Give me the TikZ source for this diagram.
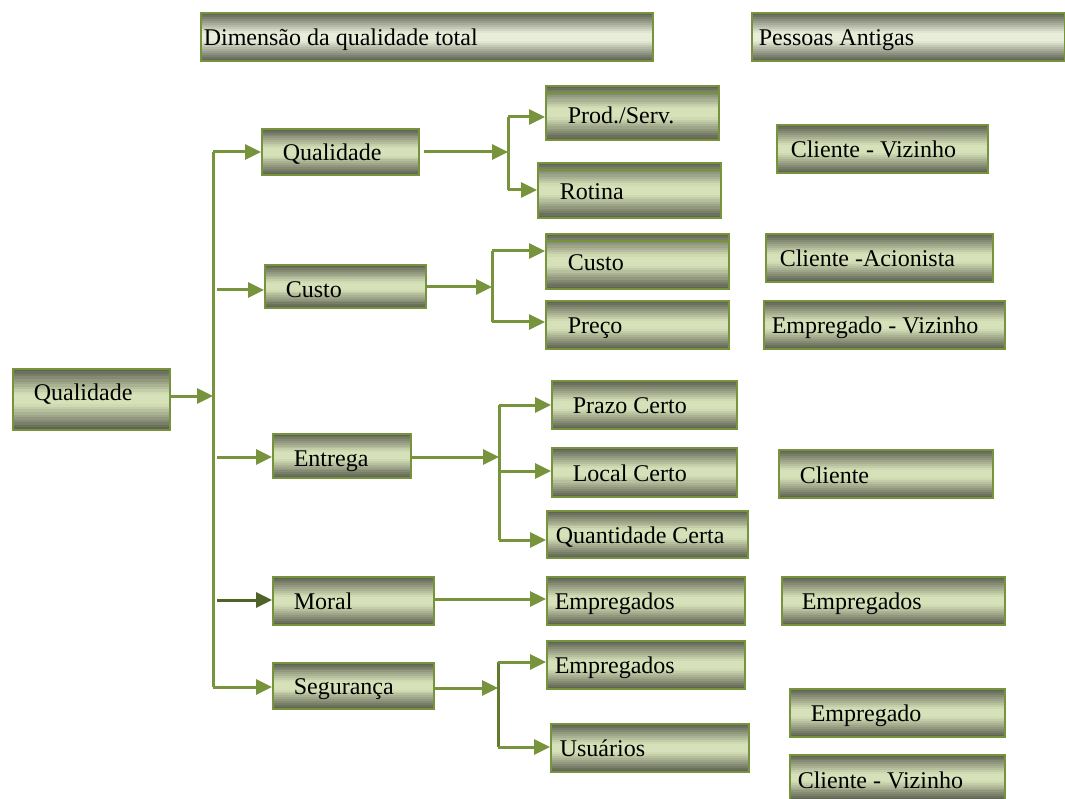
\documentclass[tikz,border=0pt]{standalone}
\usepackage{fontspec}
\setmainfont{Liberation Serif}
\usetikzlibrary{arrows.meta,calc}
\definecolor{bdark}{HTML}{5A5E4E}
\definecolor{blight}{HTML}{D6E1B9}
\definecolor{tlight}{HTML}{E7EDD9}
\definecolor{olive}{HTML}{77933C}
\definecolor{darkolive}{HTML}{4F6228}
\definecolor{midolive}{HTML}{617A2E}
\def\PNW{path picture bounding box.north west}
\def\PNE{path picture bounding box.north east}
\def\PSW{path picture bounding box.south west}
\def\PSE{path picture bounding box.south east}
\tikzset{
  grad/.style={path picture={
    \foreach \i in {0,...,23}{
      \pgfmathsetmacro\ta{\i/24}
      \pgfmathsetmacro\tb{(\i+1.1)/24}
      \pgfmathsetmacro\tm{(\i+0.5)/24}
      \pgfmathsetmacro\dd{100*max(0,max(1-\tm/0.42,(\tm-0.58)/0.42))}
      \fill[bdark!\dd!#1] ($(\PNW)!\ta!(\PSW)$) rectangle ($(\PNE)!\tb!(\PSE)$);
    }
  }},
  box/.style={draw=olive, line width=1.6pt, grad=blight, inner xsep=0pt, inner ysep=0pt,
    text height=22pt, text depth=5pt, anchor=north west, font=\fontsize{24}{27}\selectfont},
  titlebox/.style={box, grad=tlight},
  arr/.style={draw=olive, line width=3pt, -{Triangle[length=16pt,width=15pt]}},
  ln/.style={draw=olive, line width=3pt},
  dblline/.style={draw=olive, line width=1.3pt}
}
% \bx[style]{name}{x1}{y1}{x2}{y2}{text offset}{text}
\newcommand\bx[8][box]{%
  \node[#1, minimum width={#5-#3}, minimum height={#6-#4}] (#2) at (#3,#4)
    {\makebox[\dimexpr#5pt-#3pt\relax][l]{\hspace*{#7pt}#8}};}
\begin{document}
\begin{tikzpicture}[x=1pt,y=-1pt]
\useasboundingbox (0,0) rectangle (1065,799);
% titles
\bx[titlebox]{t1}{200}{12}{652}{60}{3}{Dimensão da qualidade total}
\bx[titlebox]{t2}{751}{12}{1064}{60}{7}{Pessoas Antigas}
% root
\bx[box,text height=15pt,text depth=12pt]{root}{12}{368}{169}{429}{21}{Qualidade}
% level 1
\bx{q1}{261}{128}{418}{174}{21}{Qualidade}
\bx[box,text height=25pt,text depth=2pt]{c1}{264}{264}{425}{307}{21}{Custo}
\bx[box,text height=24pt,text depth=3pt]{e1}{272}{433}{410}{477}{21}{Entrega}
\bx{m1}{272}{576}{433}{624}{21}{Moral}
\bx{s1}{272}{662}{433}{708}{21}{Segurança}
% level 2
\bx[box,text height=24pt,text depth=3pt]{ps}{545}{85}{718}{139}{22}{Prod./Serv.}
\bx[box,text height=23pt,text depth=4pt]{ro}{537}{162}{720}{217}{22}{Rotina}
\bx[box,text height=23pt,text depth=4pt]{c2}{545}{233}{728}{288}{22}{Custo}
\bx{pr}{545}{300}{728}{348}{22}{Preço}
\bx{pc}{551}{380}{736}{428}{21}{Prazo Certo}
\bx[box,text height=23pt,text depth=4pt]{lc}{551}{447}{736}{496}{21}{Local Certo}
\bx[box,text height=23pt,text depth=4pt]{qc}{546}{510}{747}{557}{9}{Quantidade Certa}
\bx{em}{546}{576}{744}{624}{8}{Empregados}
\bx{es}{546}{640}{744}{688}{8}{Empregados}
\bx{us}{550}{723}{748}{771}{9}{Usuários}
% double top lines
\draw[dblline] ([yshift=-8pt]ps.north west) -- ([yshift=-8pt]ps.north east);
\draw[dblline] ([yshift=-8pt]ro.north west) -- ([yshift=-8pt]ro.north east);
\draw[dblline] ([yshift=-8pt]c2.north west) -- ([yshift=-8pt]c2.north east);
% right column
\bx{r1}{776}{124}{987}{172}{14}{Cliente - Vizinho}
\bx{r2}{765}{233}{992}{281}{14}{Cliente -Acionista}
\bx{r3}{763}{300}{1004}{348}{8}{Empregado - Vizinho}
\bx[box,text height=23pt,text depth=4pt]{r4}{778}{449}{992}{497}{21}{Cliente}
\bx{r5}{781}{576}{1004}{624}{20}{Empregados}
\bx{r6}{789}{688}{1004}{736}{21}{Empregado}
\bx[box,text height=25pt,text depth=2pt]{r7}{789}{754}{1004}{799}{8}{Cliente - Vizinho}
% trunk
\coordinate (tt) at (213,152);
\coordinate (tb) at (213,687);
\coordinate (tr) at (213,396);
\draw[ln] (tt) -- (tb);
\draw[arr] (root.east |- tr) -- (tr);
\draw[arr] (tt) -- (q1.west |- tt);
\draw[arr] ([xshift=4pt]tt |- 0,290) -- (c1.west |- 0,290);
\draw[arr] ([xshift=4pt]tt |- 0,457) -- (e1.west |- 0,457);
\draw[arr, draw=darkolive] ([xshift=4pt]tt |- 0,600) -- (m1.west |- 0,600);
\draw[arr] (tb) -- (s1.west |- tb);
% Qualidade branch
\coordinate (qj) at (508,152);
\draw[arr] ([xshift=4pt]q1.east |- qj) -- (qj);
\draw[ln] (qj |- 0,117) -- (qj |- 0,190);
\draw[arr] (qj |- 0,117) -- (ps.west |- 0,117);
\draw[arr] (qj |- 0,190) -- (ro.west |- 0,190);
% Custo branch
\coordinate (cj) at (492,287);
\draw[arr] (c1.east |- cj) -- (cj);
\draw[ln] (cj |- 0,251) -- (cj |- 0,322);
\draw[arr] (cj |- 0,251) -- (c2.west |- 0,251);
\draw[arr] (cj |- 0,322) -- (pr.west |- 0,322);
% Entrega branch
\coordinate (ej) at (499,457);
\draw[arr] (e1.east |- ej) -- (ej);
\draw[ln] (ej |- 0,405) -- (ej |- 0,540);
\draw[arr] (ej |- 0,405) -- (pc.west |- 0,405);
\draw[arr] (ej |- 0,471) -- (lc.west |- 0,471);
\draw[arr] (ej |- 0,540) -- (qc.west |- 0,540);
% Moral
\draw[arr] (m1.east |- 0,599) -- (em.west |- 0,599);
% Seguranca branch
\coordinate (sj) at (498,688);
\draw[arr] (s1.east |- sj) -- (sj);
\draw[ln, draw=midolive] (sj |- 0,662) -- (sj |- 0,747);
\draw[arr] (sj |- 0,662) -- (es.west |- 0,662);
\draw[arr] (sj |- 0,747) -- (us.west |- 0,747);
\end{tikzpicture}
\end{document}
